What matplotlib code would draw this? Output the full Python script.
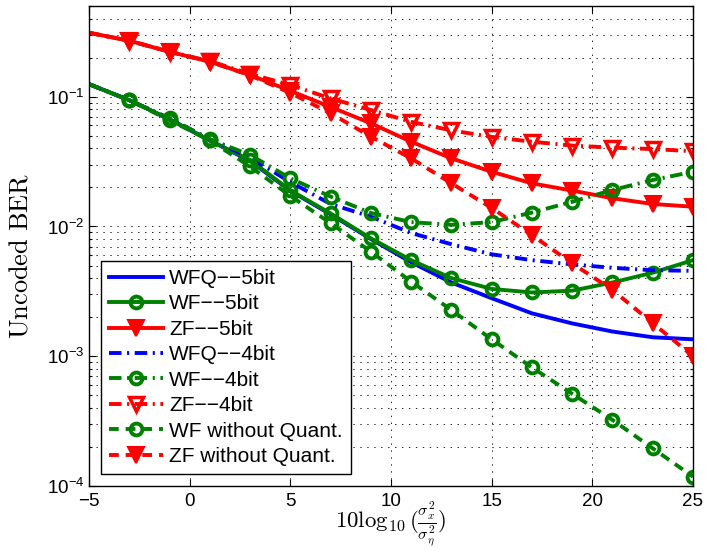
import numpy as np
import matplotlib
matplotlib.use("Agg")
import matplotlib.pyplot as plt
from matplotlib.ticker import LogLocator, NullFormatter, FixedLocator

plt.rcParams['font.family'] = ['Liberation Sans', 'DejaVu Sans']
plt.rcParams['mathtext.fontset'] = 'cm'
plt.rcParams['lines.scale_dashes'] = False

snr = [-5, -3, -1, 1, 3, 5, 7, 9, 11, 13, 15, 17, 19, 21, 23, 25]

wfq_5bit = [0.125, 0.094, 0.067, 0.046, 0.032, 0.0188, 0.0124, 0.0080, 0.0053,
            0.0037, 0.0028, 0.00214, 0.00179, 0.00155, 0.00140, 0.00135]
wf_5bit = [0.125, 0.094, 0.067, 0.046, 0.0325, 0.019, 0.0126, 0.0081, 0.0055,
           0.0040, 0.0033, 0.0031, 0.0032, 0.0037, 0.0044, 0.0055]
zf_5bit = [0.311, 0.270, 0.222, 0.186, 0.147, 0.111, 0.0833, 0.0624, 0.0450,
           0.0335, 0.0264, 0.0215, 0.0189, 0.0165, 0.0149, 0.0142]
wfq_4bit = [0.125, 0.094, 0.068, 0.047, 0.034, 0.022, 0.0149, 0.0119, 0.0089,
            0.0073, 0.0061, 0.0055, 0.0051, 0.0048, 0.0046, 0.00455]
wf_4bit = [0.125, 0.094, 0.068, 0.047, 0.0356, 0.0235, 0.0170, 0.0127, 0.0108,
           0.0103, 0.0108, 0.0128, 0.0155, 0.0191, 0.0228, 0.0264]
zf_4bit = [0.311, 0.270, 0.222, 0.188, 0.150, 0.123, 0.097, 0.079, 0.064,
           0.055, 0.049, 0.045, 0.042, 0.0405, 0.0395, 0.038]
wf_noq = [0.125, 0.094, 0.066, 0.046, 0.0290, 0.0172, 0.0106, 0.0064, 0.00376,
          0.00227, 0.00135, 0.00082, 0.000513, 0.000323, 0.000195, 0.000118]
zf_noq = [0.311, 0.270, 0.222, 0.186, 0.146, 0.107, 0.0745, 0.0492, 0.0335,
          0.0215, 0.0139, 0.00857, 0.0052, 0.00324, 0.00180, 0.00100]

labels = ['WFQ\u2212\u22125bit', 'WF\u2212\u22125bit', 'ZF\u2212\u22125bit',
          'WFQ\u2212\u22124bit', 'WF\u2212\u22124bit', 'ZF\u2212\u22124bit',
          'WF without Quant.', 'ZF without Quant.']
x_ticks = [-5, 0, 5, 10, 15, 20, 25]

blue = '#0000ff'
green = '#008000'
red = '#ff0000'
dashed = (0, (7, 5))
dashdot = (0, (9, 4, 1.5, 4))
lw = 2.8
me = slice(1, None)

fig = plt.figure(figsize=(7.27, 5.51), dpi=100)
ax = fig.add_axes([0.1224, 0.118, 0.8308, 0.8711])

ax.plot(snr, wfq_5bit, color=blue, lw=lw, ls='-', label=labels[0])
ax.plot(snr, wf_5bit, color=green, lw=lw, ls='-', marker='o', ms=8.5, mew=2.8,
        mfc='none', markevery=me, label=labels[1])
ax.plot(snr, zf_5bit, color=red, lw=lw, ls='-', marker='v', ms=11, mew=1.5,
        mfc=red, markevery=me, label=labels[2])
ax.plot(snr, wfq_4bit, color=blue, lw=lw, ls=dashdot, label=labels[3])
ax.plot(snr, wf_4bit, color=green, lw=lw, ls=dashdot, marker='o', ms=8.5, mew=2.8,
        mfc='none', markevery=me, label=labels[4])
ax.plot(snr, zf_4bit, color=red, lw=lw, ls=dashdot, marker='v', ms=10, mew=2.5,
        mfc='none', markevery=me, label=labels[5])
ax.plot(snr, wf_noq, color=green, lw=lw, ls=dashed, marker='o', ms=8.5, mew=2.8,
        mfc='none', markevery=me, label=labels[6])
ax.plot(snr, zf_noq, color=red, lw=lw, ls=dashed, marker='v', ms=12, mew=1.5,
        mfc=red, markevery=me, label=labels[7])

ax.set_yscale('log')
ax.set_xlim(-5, 25)
ax.set_ylim(1e-4, 0.5)
ax.xaxis.set_major_locator(FixedLocator(x_ticks))
ax.yaxis.set_major_locator(LogLocator(base=10, numticks=10))
ax.yaxis.set_minor_locator(LogLocator(base=10, subs=np.arange(2, 10), numticks=100))
ax.yaxis.set_minor_formatter(NullFormatter())

grid_ls = (0, (1, 4))
ax.grid(True, which='major', axis='both', color='#202020', lw=0.7, ls=grid_ls)
ax.grid(True, which='minor', axis='y', color='#202020', lw=0.7, ls=grid_ls)

ax.tick_params(which='both', direction='in', top=True, right=True, labelsize=13.5, width=0.8)
ax.tick_params(which='major', length=5)
ax.tick_params(which='minor', length=2.5)
ax.tick_params(axis='x', which='major', pad=5)
for s in ax.spines.values():
    s.set_linewidth(1.0)

ax.set_xlabel(r'$10\log_{10}(\frac{\sigma_x^2}{\sigma_\eta^2})$', fontsize=16.5)
ax.xaxis.set_label_coords(0.5, -0.131)
ax.xaxis.label.set_va('bottom')
ax.set_ylabel(r'$\mathrm{Uncoded\ BER}$', fontsize=19)
ax.yaxis.set_label_coords(-0.094, 0.479)

leg = ax.legend(loc='lower left', bbox_to_anchor=(0.02, 0.024), borderaxespad=0,
                fontsize=15, handlelength=2.56, handletextpad=0.32,
                labelspacing=0.31, borderpad=0.4, fancybox=False, framealpha=1)
leg.get_frame().set_edgecolor('k')
leg.get_frame().set_linewidth(1.0)

fig.savefig('out.png', dpi=100)
